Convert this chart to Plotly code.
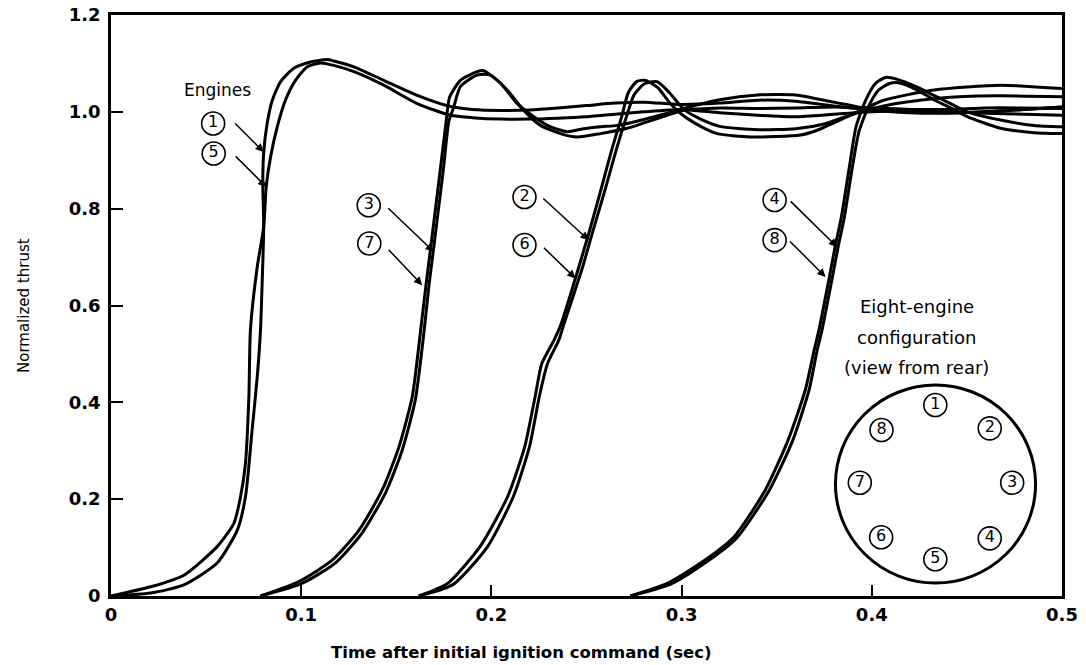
import plotly.graph_objects as go

# ---- data (time in s, normalized thrust) ----
t_e1 = [0, 0.0208, 0.0383, 0.0558, 0.0664, 0.0707, 0.0742, 0.0769, 0.0786, 0.0795, 0.0803, 0.0798, 0.0803,
        0.0821, 0.0848, 0.0891, 0.0961, 0.1049, 0.1137, 0.1171, 0.1277, 0.1434, 0.161, 0.1785, 0.19, 0.205,
        0.22, 0.235, 0.25, 0.265, 0.28, 0.30, 0.32, 0.34, 0.36, 0.38, 0.40, 0.42, 0.44, 0.46, 0.48, 0.50]
y_e1 = [0, 0.006, 0.023, 0.068, 0.136, 0.205, 0.343, 0.453, 0.549, 0.65, 0.763, 0.852, 0.917,
        0.976, 1.024, 1.062, 1.090, 1.103, 1.108, 1.105, 1.093, 1.065, 1.034, 1.011, 1.005, 1.003,
        1.004, 1.008, 1.013, 1.018, 1.02, 1.015, 1.018, 1.024, 1.022, 1.012, 1.003, 1.0, 0.998, 1.0, 1.005, 1.01]

t_e5 = [0, 0.0208, 0.0383, 0.0558, 0.0646, 0.0681, 0.0707, 0.0725, 0.0733, 0.0769, 0.0803, 0.0816, 0.0839,
        0.0874, 0.0917, 0.097, 0.1032, 0.1101, 0.1171, 0.1277, 0.1434, 0.161, 0.1785, 0.19, 0.205, 0.22,
        0.235, 0.25, 0.265, 0.28, 0.30, 0.32, 0.34, 0.36, 0.38, 0.40, 0.42, 0.44, 0.46, 0.48, 0.50]
y_e5 = [0, 0.019, 0.043, 0.102, 0.150, 0.205, 0.274, 0.412, 0.549, 0.680, 0.763, 0.845, 0.907,
        0.969, 1.024, 1.065, 1.093, 1.101, 1.096, 1.083, 1.055, 1.017, 0.993, 0.988, 0.985, 0.985,
        0.987, 0.99, 0.995, 1.0, 1.005, 0.998, 0.993, 0.99, 0.995, 1.0, 1.002, 1.0, 0.997, 0.995, 0.993]

t_e3 = [0.0786, 0.0988, 0.1163, 0.1304, 0.1426, 0.1514, 0.1584, 0.1628, 0.1656, 0.1678, 0.1706, 0.1733,
        0.1762, 0.178, 0.1837, 0.1925, 0.196, 0.2048, 0.2136, 0.2223, 0.2311, 0.2399, 0.2486, 0.2574,
        0.2661, 0.2749, 0.2924, 0.3012, 0.32, 0.34, 0.36, 0.38, 0.40, 0.42, 0.44, 0.46, 0.48, 0.50]
y_e3 = [0, 0.030, 0.074, 0.136, 0.219, 0.308, 0.412, 0.549, 0.642, 0.711, 0.80, 0.886,
        0.98, 1.03, 1.065, 1.083, 1.085, 1.059, 1.017, 0.990, 0.969, 0.959, 0.965, 0.969,
        0.972, 0.979, 0.997, 1.007, 1.025, 1.035, 1.035, 1.02, 1.005, 0.998, 0.997, 1.0, 1.005, 1.01]

t_e7 = [0.0786, 0.1004, 0.1179, 0.132, 0.1442, 0.153, 0.16, 0.1644, 0.1672, 0.1694, 0.1722, 0.1749,
        0.1776, 0.1802, 0.1837, 0.1925, 0.1995, 0.2083, 0.217, 0.2258, 0.2363, 0.2451, 0.2574, 0.2714,
        0.2924, 0.3012, 0.32, 0.34, 0.36, 0.38, 0.40, 0.42, 0.44, 0.46, 0.48, 0.50]
y_e7 = [0, 0.026, 0.068, 0.130, 0.212, 0.300, 0.405, 0.540, 0.642, 0.711, 0.80, 0.886,
        0.98, 1.01, 1.052, 1.076, 1.076, 1.045, 1.003, 0.972, 0.955, 0.948, 0.955, 0.966,
        0.993, 1.003, 1.008, 1.007, 1.008, 1.01, 1.008, 1.005, 1.005, 1.008, 1.008, 1.007]

t_e2 = [0.1618, 0.177, 0.194, 0.2085, 0.2175, 0.223, 0.2265, 0.233, 0.2365, 0.246, 0.2512, 0.258, 0.2632,
        0.2685, 0.272, 0.2765, 0.281, 0.2875, 0.2935, 0.30, 0.31, 0.3187, 0.3362, 0.3625, 0.3713, 0.3888,
        0.4063, 0.4326, 0.4677, 0.50]
y_e2 = [0, 0.026, 0.102, 0.205, 0.308, 0.412, 0.48, 0.529, 0.56, 0.68, 0.749, 0.845, 0.921,
        0.99, 1.04, 1.063, 1.065, 1.05, 1.02, 0.995, 0.97, 0.955, 0.948, 0.952, 0.962, 0.993,
        1.024, 1.045, 1.055, 1.048]

t_e6 = [0.1618, 0.18, 0.198, 0.2115, 0.22, 0.2252, 0.2295, 0.2355, 0.238, 0.248, 0.253, 0.2602, 0.2656,
        0.271, 0.275, 0.2805, 0.2872, 0.2935, 0.3012, 0.31, 0.32, 0.34, 0.36, 0.375, 0.39, 0.41, 0.435,
        0.465, 0.50]
y_e6 = [0, 0.024, 0.102, 0.205, 0.308, 0.412, 0.48, 0.529, 0.56, 0.68, 0.749, 0.845, 0.921,
        0.99, 1.035, 1.058, 1.062, 1.04, 1.005, 0.985, 0.97, 0.963, 0.965, 0.975, 0.995, 1.015, 1.028,
        1.033, 1.031]

t_e4 = [0.2731, 0.2924, 0.31, 0.3275, 0.344, 0.356, 0.365, 0.3697, 0.3722, 0.3777, 0.3807, 0.384, 0.3882,
        0.3917, 0.3968, 0.402, 0.4072, 0.4134, 0.4239, 0.4326, 0.4414, 0.4502, 0.4677, 0.4852, 0.50]
y_e4 = [0, 0.026, 0.068, 0.122, 0.219, 0.322, 0.425, 0.508, 0.549, 0.659, 0.721, 0.783, 0.886,
        0.969, 1.024, 1.059, 1.071, 1.067, 1.051, 1.034, 1.017, 1.0, 0.983, 0.972, 0.969]

t_e8 = [0.2731, 0.294, 0.3115, 0.329, 0.3462, 0.3585, 0.367, 0.3713, 0.3738, 0.3793, 0.3823, 0.3856, 0.3898,
        0.3933, 0.3984, 0.4036, 0.409, 0.414, 0.4239, 0.4326, 0.4414, 0.4502, 0.4677, 0.4852, 0.50]
y_e8 = [0, 0.024, 0.066, 0.12, 0.219, 0.322, 0.425, 0.508, 0.549, 0.659, 0.721, 0.783, 0.886,
        0.96, 1.012, 1.045, 1.058, 1.06, 1.045, 1.025, 1.008, 0.99, 0.966, 0.957, 0.955]

engines = {1: (t_e1, y_e1), 5: (t_e5, y_e5), 3: (t_e3, y_e3), 7: (t_e7, y_e7),
           2: (t_e2, y_e2), 6: (t_e6, y_e6), 4: (t_e4, y_e4), 8: (t_e8, y_e8)}

x_ticks = [0, 0.1, 0.2, 0.3, 0.4, 0.5]
x_tick_text = ["0", "0.1", "0.2", "0.3", "0.4", "0.5"]
y_ticks = [0, 0.2, 0.4, 0.6, 0.8, 1.0, 1.2]
y_tick_text = ["0", "0.2", "0.4", "0.6", "0.8", "1.0", "1.2"]

# callout labels (engine number, label position, arrow tip, arrow tail offset px)
callouts = [
    ("1", 0.0537, 0.976, 0.0803, 0.917, -30, -30),
    ("5", 0.0540, 0.914, 0.0816, 0.845, -32, -32),
    ("3", 0.1355, 0.807, 0.1697, 0.711, -47, -45),
    ("7", 0.1358, 0.728, 0.1636, 0.642, -35, -37),
    ("2", 0.2174, 0.824, 0.2512, 0.735, -47, -43),
    ("6", 0.2174, 0.725, 0.2442, 0.656, -33, -32),
    ("4", 0.3489, 0.818, 0.3818, 0.721, -48, -47),
    ("8", 0.3489, 0.735, 0.3757, 0.659, -37, -37),
]

# engine layout diagram (view from rear)
diagram_labels = ["1", "2", "3", "4", "5", "6", "7", "8"]
diagram_x = [0.4334, 0.4620, 0.4738, 0.4620, 0.4334, 0.4049, 0.3937, 0.4051]
diagram_y = [0.3944, 0.3463, 0.2339, 0.1191, 0.0758, 0.1213, 0.2339, 0.3428]

FONT = "DejaVu Sans"

fig = go.Figure()
for num, (tt, yy) in engines.items():
    fig.add_trace(go.Scatter(x=tt, y=yy, mode="lines", name=f"Engine {num}",
                             line=dict(color="black", width=3, shape="spline", smoothing=0.6),
                             hoverinfo="skip", showlegend=False))

# circled labels (callouts + diagram)
fig.add_trace(go.Scatter(
    x=[c[1] for c in callouts] + diagram_x,
    y=[c[2] for c in callouts] + diagram_y,
    text=[c[0] for c in callouts] + diagram_labels,
    mode="markers+text", textposition="middle center",
    marker=dict(symbol="circle", size=23, color="white", line=dict(color="black", width=1.6)),
    textfont=dict(family=FONT, size=16, color="black"),
    hoverinfo="skip", showlegend=False, cliponaxis=False))

annotations = []
for lab, lx, ly, tx, ty, ax, ay in callouts:
    annotations.append(dict(x=tx, y=ty, xref="x", yref="y", ax=ax, ay=ay, axref="pixel", ayref="pixel",
                            text="", showarrow=True, arrowhead=2, arrowsize=1.1, arrowwidth=1.5,
                            arrowcolor="black", standoff=0, startstandoff=0))

annotations += [
    dict(x=0.0560, y=1.046, xref="x", yref="y", text="Engines", showarrow=False,
         font=dict(family=FONT, size=17, color="black")),
    dict(x=0.4235, y=0.597, xref="x", yref="y", text="Eight-engine", showarrow=False,
         font=dict(family=FONT, size=18, color="black")),
    dict(x=0.4235, y=0.533, xref="x", yref="y", text="configuration", showarrow=False,
         font=dict(family=FONT, size=18, color="black")),
    dict(x=0.4235, y=0.471, xref="x", yref="y", text="(view from rear)", showarrow=False,
         font=dict(family=FONT, size=18, color="black")),
    dict(x=0.4316, y=-0.098, xref="paper", yref="paper", text="<b>Time after initial ignition command (sec)</b>",
         showarrow=False, yanchor="middle", font=dict(family=FONT, size=16.5, color="black")),
    dict(x=-0.092, y=0.5, xref="paper", yref="paper", text="Normalized thrust", textangle=-90,
         showarrow=False, xanchor="center", yanchor="middle", font=dict(family=FONT, size=15, color="black")),
]

fig.add_shape(type="circle", xref="x", yref="y", x0=0.3809, x1=0.4861, y0=0.0268, y1=0.4357,
              line=dict(color="black", width=3))

fig.update_layout(
    width=1086, height=665,
    margin=dict(l=110.5, r=24.3, t=15, b=69, autoexpand=False),
    paper_bgcolor="white", plot_bgcolor="white",
    annotations=annotations,
    showlegend=False,
    hovermode=False,
    xaxis=dict(range=[0, 0.5], tickvals=x_ticks, ticktext=x_tick_text, ticks="inside", ticklen=11,
               tickwidth=2, tickcolor="black", showline=True, linewidth=2.5, linecolor="black",
               mirror=True, showgrid=False, zeroline=False, ticklabelstandoff=1, automargin=False,
               ticklabeloverflow="allow",
               tickfont=dict(family=FONT, size=18, color="black", weight="bold")),
    yaxis=dict(range=[0, 1.2], tickvals=y_ticks, ticktext=y_tick_text, ticks="inside", ticklen=12,
               tickwidth=2, tickcolor="black", showline=True, linewidth=2.5, linecolor="black",
               mirror=True, showgrid=False, zeroline=False, ticklabelstandoff=4, automargin=False,
               ticklabeloverflow="allow",
               tickfont=dict(family=FONT, size=18, color="black", weight="bold")),
)

# remove the browser's default 8px body margin so the figure fills the window exactly
fig.write_html("out.html", config={"displayModeBar": False},
               post_script="document.body.style.margin='0';document.body.style.overflow='hidden';")
